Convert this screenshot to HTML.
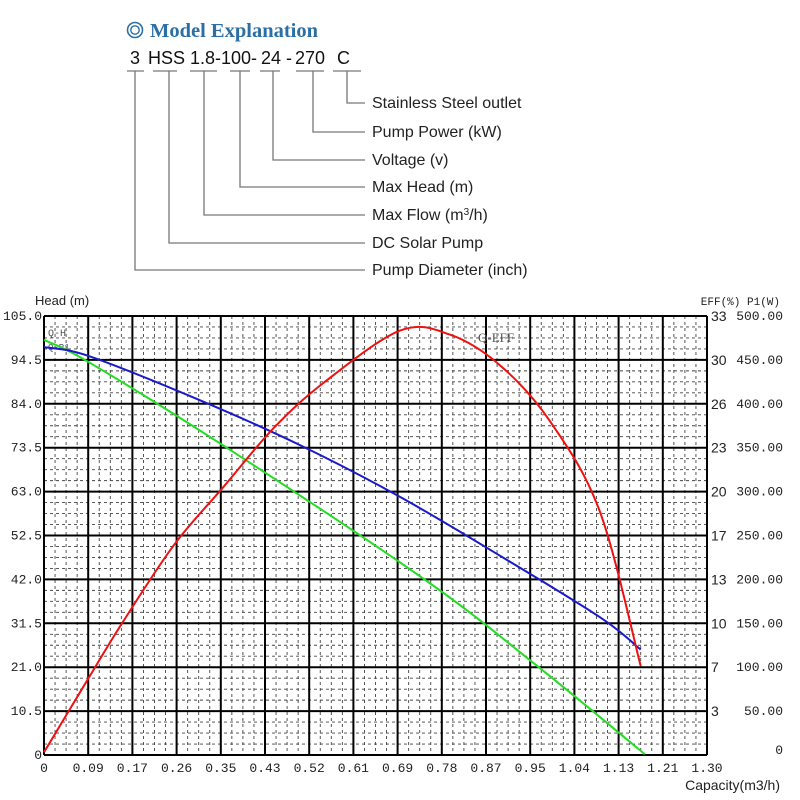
<!DOCTYPE html>
<html><head><meta charset="utf-8"><style>
body{margin:0;background:#fff;width:800px;height:800px;overflow:hidden}
svg{display:block}
</style></head><body>
<svg width="800" height="800" viewBox="0 0 800 800">
<g>
 <circle cx="135" cy="30" r="7.5" fill="none" stroke="#2a6fa5" stroke-width="1.6"/>
 <circle cx="135" cy="30" r="4.2" fill="none" stroke="#2a6fa5" stroke-width="1.4"/>
 <text x="150" y="37" font-family="Liberation Serif, serif" font-weight="bold" font-size="20.5" fill="#2a6fa5">Model Explanation</text>
 <g font-family="Liberation Sans, sans-serif" font-size="18" fill="#111">
  <text x="130" y="64">3</text><text x="148" y="64">HSS</text><text x="190" y="64">1.8-</text>
  <text x="221" y="64">100</text><text x="251" y="64">-</text><text x="261" y="64">24</text>
  <text x="286" y="64">-</text><text x="295" y="64">270</text><text x="337" y="64">C</text>
 </g>
 <g stroke="#777" stroke-width="1.3" fill="none">
  <path d="M127 71H144M153 71H177M190 71H217M230 71H250M260 71H280M296 71H324M333 71H361"/>
  <path d="M347 71V103H365"/><path d="M313 71V132H365"/><path d="M273 71V160H365"/>
  <path d="M240 71V187H365"/><path d="M204 71V215H365"/><path d="M169 71V243H365"/><path d="M135 71V270H365"/>
 </g>
 <g font-family="Liberation Sans, sans-serif" font-size="16" fill="#222">
  <text x="372" y="108">Stainless Steel outlet</text>
  <text x="372" y="137">Pump Power (kW)</text>
  <text x="372" y="165">Voltage (v)</text>
  <text x="372" y="192">Max Head (m)</text>
  <text x="372" y="220">Max Flow (m<tspan font-size="10" dy="-5">3</tspan><tspan dy="5">/h)</tspan></text>
  <text x="372" y="248">DC Solar Pump</text>
  <text x="372" y="275">Pump Diameter (inch)</text>
 </g>
</g>
<g id="chart"></g>
</svg>
<script>
const xTicks=["0","0.09","0.17","0.26","0.35","0.43","0.52","0.61","0.69","0.78","0.87","0.95","1.04","1.13","1.21","1.30"];
const headTicks=["0","10.5","21.0","31.5","42.0","52.5","63.0","73.5","84.0","94.5","105.0"];
const effTicks=["","3","7","10","13","17","20","23","26","30","33"];
const p1Ticks=["0","50.00","100.00","150.00","200.00","250.00","300.00","350.00","400.00","450.00","500.00"];
const qhFlow=[0,0.09,0.357,0.745,0.97,1.178];
const qhHead=[99.3,93.8,73.6,42.1,21.0,0.2];
const p1Flow=[0,0.09,0.306,0.502,0.698,0.894,1.09,1.17];
const p1Vals=[464.7,454,404,353,294,227,157,120];
const effFlow=[0,0.086,0.153,0.255,0.353,0.451,0.549,0.698,0.796,0.894,0.992,1.09,1.17];
const effVals=[0.2,5.7,9.9,15.8,20.2,24.6,28,31.9,31.6,29.3,25.1,18.3,6.7];
const L=44,R=707,T=316,B=755,NS="http://www.w3.org/2000/svg";
const xS=v=>L+v/1.3*(R-L), hS=v=>B-v/105*(B-T), eS=v=>B-v/33*(B-T), pS=v=>B-v/500*(B-T);
const g=document.getElementById('chart');
function mk(t,a,p){const e=document.createElementNS(NS,t);for(const k in a)e.setAttribute(k,a[k]);(p||g).appendChild(e);return e;}
const cw=(R-L)/15,ch=(B-T)/10;
let d="";
for(let i=0;i<=60;i++){if(i%4)d+=`M${L+i*cw/4} ${T}V${B}`;}
for(let j=0;j<=40;j++){if(j%4)d+=`M${L} ${T+j*ch/4}H${R}`;}
const minor=mk('path',{d:d,stroke:'#444','stroke-width':0.9,'stroke-dasharray':'3,3',fill:'none'});


let d2="";
for(let i=0;i<=15;i++)d2+=`M${L+i*cw} ${T}V${B}`;
for(let j=0;j<=10;j++)d2+=`M${L} ${T+j*ch}H${R}`;
const major=mk('path',{d:d2,stroke:'#000','stroke-width':2,fill:'none'});


const txt=(x,y,s,a,name,extra)=>{const t=mk('text',Object.assign({x:x,y:y,'font-family':'Liberation Mono, monospace','font-size':13,fill:'#222','text-anchor':a},extra||{}));t.textContent=s;return t;};
xTicks.forEach((s,i)=>txt(xS(i*1.3/15),B+17,s,'middle','x-tick-label'));
headTicks.forEach((s,i)=>txt(L-2,hS(i*10.5)+4,s,'end','head-tick-label'));
effTicks.forEach((s,i)=>txt(711,B-i*ch+5,s,'start','eff-tick-label',{'font-family':'Liberation Sans, sans-serif','font-size':14}));
p1Ticks.forEach((s,i)=>txt(783,B-i*ch+(i==0?-1:4),s,'end','p1-tick-label'));
txt(35,305,'Head (m)','start','y-axis-title',{'font-family':'Liberation Sans, sans-serif','font-size':13});
txt(780,305,'EFF(%) P1(W)','end','right-axis-title',{'font-size':11});
txt(780,790,'Capacity(m3/h)','end','x-axis-title',{'font-family':'Liberation Sans, sans-serif','font-size':14});
txt(48,336,'Q-H','start','qh-label',{'font-size':10,fill:'#555'});
txt(48,350,'Q-P1','start','qp1-label',{'font-size':9,fill:'#555'});
txt(478,342,'Q-EFF','start','qeff-label',{'font-family':'Liberation Serif, serif','font-size':13,fill:'#555'});
function line(xs,ys,ysc,col,name){
 const P=xs.map((x,i)=>[xS(x),ysc(ys[i])]);
 let s=`M${P[0][0].toFixed(1)},${P[0][1].toFixed(1)}`;
 for(let i=0;i<P.length-1;i++){
  const p0=P[i-1]||P[i],p1=P[i],p2=P[i+1],p3=P[i+2]||P[i+1];
  const c1=[p1[0]+(p2[0]-p0[0])/6,p1[1]+(p2[1]-p0[1])/6];
  const c2=[p2[0]-(p3[0]-p1[0])/6,p2[1]-(p3[1]-p1[1])/6];
  s+=`C${c1[0].toFixed(1)},${c1[1].toFixed(1)} ${c2[0].toFixed(1)},${c2[1].toFixed(1)} ${p2[0].toFixed(1)},${p2[1].toFixed(1)}`;
 }
 const p=mk('path',{d:s,stroke:col,'stroke-width':2,fill:'none','stroke-linejoin':'round'});
 
 
}
line(qhFlow,qhHead,hS,'#22dd22','qh-curve');
line(p1Flow,p1Vals,pS,'#1a1acc','qp1-curve');
line(effFlow,effVals,eS,'#ee1111','qeff-curve');
</script>
</body></html>
